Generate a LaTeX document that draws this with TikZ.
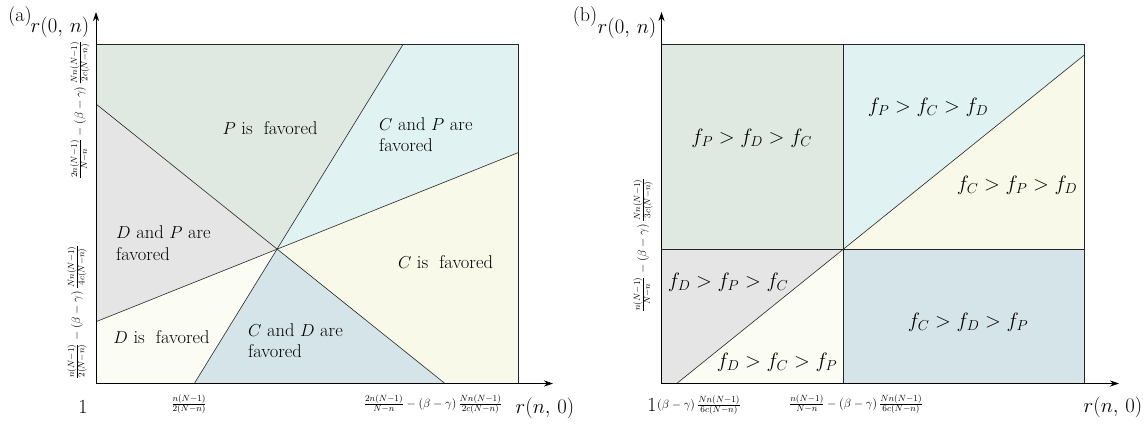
\documentclass[tikz,border=0pt]{standalone}
\usepackage{amsmath}
\usetikzlibrary{arrows.meta}
\definecolor{cP}{HTML}{E0E9E1}
\definecolor{cCP}{HTML}{E1F2F3}
\definecolor{cC}{HTML}{F8F9E9}
\definecolor{cCD}{HTML}{D5E4E8}
\definecolor{cD}{HTML}{FBFCF4}
\definecolor{cDP}{HTML}{E5E5E6}
\begin{document}
\begin{tikzpicture}[x=1pt,y=-1pt,
  bnd/.style={draw=black!85, line width=0.6pt, line join=round},
  frame/.style={draw=black!85, line width=0.7pt},
  axis/.style={draw=black, line width=0.8pt, -{Stealth[length=9pt,width=6pt]}},
  lab/.style={font=\fontsize{18.5}{21.5}\selectfont, align=left, inner sep=0pt},
  flab/.style={font=\fontsize{21.5}{25}\selectfont, inner sep=0pt},
  frl/.style={font=\fontsize{12.5}{14}\selectfont, inner sep=0pt},
  big/.style={font=\fontsize{20}{23}\selectfont, inner sep=0pt}]
\useasboundingbox (0,0) rectangle (1144,426);
% ---------------- panel (a) ----------------
\coordinate (aO) at (277,249);
\coordinate (aTL) at (96,44);
\coordinate (aTR) at (518,44);
\coordinate (aBR) at (518,383.5);
\coordinate (aBL) at (96,383.5);
\coordinate (a1) at (96,104);
\coordinate (a2) at (445,383.5);
\coordinate (b1) at (96,321.7);
\coordinate (b2) at (518,152.7);
\coordinate (c1) at (194.3,383.5);
\coordinate (c2) at (403.3,44);
\fill[cP] (aTL) -- (c2) -- (aO) -- (a1) -- cycle;
\fill[cCP] (c2) -- (aTR) -- (b2) -- (aO) -- cycle;
\fill[cC] (b2) -- (aBR) -- (a2) -- (aO) -- cycle;
\fill[cCD] (a2) -- (c1) -- (aO) -- cycle;
\fill[cD] (c1) -- (aBL) -- (b1) -- (aO) -- cycle;
\fill[cDP] (b1) -- (a1) -- (aO) -- cycle;
\draw[bnd] (a1) -- (a2);
\draw[bnd] (b1) -- (b2);
\draw[bnd] (c1) -- (c2);
\draw[frame] (aTL) -- (aTR) -- (aBR);
\coordinate (aYtip) at (96,12);
\coordinate (aXtip) at (553,383.5);
\draw[axis] (aBL) -- (aYtip);
\draw[axis] (aBL) -- (aXtip);
\node[lab, anchor=center] (tP) at (270,128) {$P$ is~ favored};
\node[lab, anchor=west] (tCP) at (379,134.5) {$C$ and $P$ are\\favored};
\node[lab, anchor=west] (tDP) at (116,243) {$D$ and $P$ are\\favored};
\node[lab, anchor=center] (tC) at (445.5,262) {$C$ is~ favored};
\node[lab, anchor=center] (tD) at (161.5,337) {$D$ is~ favored};
\node[lab, anchor=west] (tCD) at (248,340.5) {$C$ and $D$ are\\favored};
\node[big] (la) at (20,17) {(a)};
\node[big] (ya) at (60,27) {$r(0,\,n)$};
\node[big] (xa) at (545,408) {$r(n,\,0)$};
\node[big] (oa) at (83,407) {1};
\node[frl] (xa1) at (189,404) {$\frac{n(N-1)}{2(N-n)}$};
\node[frl] (xa2) at (433,404) {$\frac{2n(N-1)}{N-n} - (\beta-\gamma)\,\frac{Nn(N-1)}{2c(N-n)}$};
\node[frl, rotate=90] (ya1) at (80,110) {$\frac{2n(N-1)}{N-n} - (\beta-\gamma)\,\frac{Nn(N-1)}{2c(N-n)}$};
\node[frl, rotate=90] (ya2) at (77,312) {$\frac{n(N-1)}{2(N-n)} - (\beta-\gamma)\,\frac{Nn(N-1)}{4c(N-n)}$};
% ---------------- panel (b) ----------------
\coordinate (bTL) at (661.5,44);
\coordinate (bTM) at (843.3,44);
\coordinate (bTR) at (1084.3,44);
\coordinate (bML) at (661.5,249.3);
\coordinate (bMM) at (843.3,249.3);
\coordinate (bMR) at (1084.3,249.3);
\coordinate (bBL) at (661.5,383.5);
\coordinate (bBM) at (843.3,383.5);
\coordinate (bBR) at (1084.3,383.5);
\coordinate (d1) at (676.7,383.5);
\coordinate (d2) at (1084.3,55);
\fill[cP] (bTL) -- (bTM) -- (bMM) -- (bML) -- cycle;
\fill[cCP] (bTM) -- (bTR) -- (d2) -- (bMM) -- cycle;
\fill[cC] (d2) -- (bMR) -- (bMM) -- cycle;
\fill[cCD] (bMM) -- (bMR) -- (bBR) -- (bBM) -- cycle;
\fill[cDP] (bML) -- (bMM) -- (d1) -- (bBL) -- cycle;
\fill[cD] (d1) -- (bMM) -- (bBM) -- cycle;
\draw[bnd] (bML) -- (bMR);
\draw[bnd] (bTM) -- (bBM);
\draw[bnd] (d1) -- (d2);
\draw[frame] (bTL) -- (bTR) -- (bBR);
\coordinate (bYtip) at (661.5,12);
\coordinate (bXtip) at (1119,383.5);
\draw[axis] (bBL) -- (bYtip);
\draw[axis] (bBL) -- (bXtip);
\node[flab] (f1) at (751.7,138) {$f_P > f_D > f_C$};
\node[flab] (f2) at (928,107) {$f_P > f_C > f_D$};
\node[flab] (f3) at (1017,185) {$f_C > f_P > f_D$};
\node[flab] (f4) at (728,282) {$f_D > f_P > f_C$};
\node[flab] (f5) at (968,322) {$f_C > f_D > f_P$};
\node[flab] (f6) at (777,362) {$f_D > f_C > f_P$};
\node[big] (lb) at (585,17) {(b)};
\node[big] (yb) at (627,28) {$r(0,\,n)$};
\node[big] (xb) at (1113,407) {$r(n,\,0)$};
\node[big] (ob) at (652,405) {1};
\node[frl] (xb1) at (699,405) {$(\beta-\gamma)\,\frac{Nn(N-1)}{6c(N-n)}$};
\node[frl] (xb2) at (856,404) {$\frac{n(N-1)}{N-n} - (\beta-\gamma)\,\frac{Nn(N-1)}{6c(N-n)}$};
\node[frl, rotate=90] (yb1) at (643,245) {$\frac{n(N-1)}{N-n} - (\beta-\gamma)\,\frac{Nn(N-1)}{3c(N-n)}$};
\end{tikzpicture}
\end{document}
